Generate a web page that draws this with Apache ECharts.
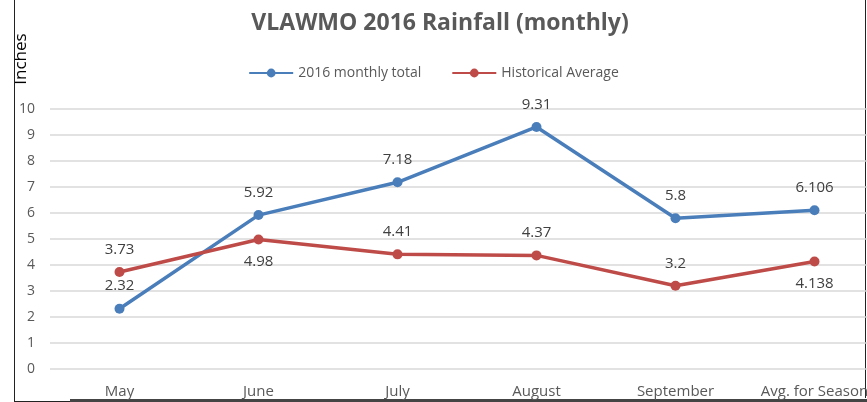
<!DOCTYPE html>
<html>
<head>
<meta charset="utf-8">
<script src="https://cdn.jsdelivr.net/npm/echarts@6/dist/echarts.min.js"></script>
<style>
  html, body { margin: 0; padding: 0; background: #fff; }
  #chart { width: 867px; height: 402px; }
</style>
</head>
<body>
<div id="chart"></div>
<script>
// data
const months = ['May', 'June', 'July', 'August', 'September', 'Avg. for Season']
const total2016 = [2.32, 5.92, 7.18, 9.31, 5.8, 6.106]
const historical = [3.73, 4.98, 4.41, 4.37, 3.2, 4.138]
// label side for each point (true = above)
const totalAbove = [true, true, true, true, true, true]
const histAbove = [true, false, true, true, true, false]

const blue = '#4a7ebb'
const red = '#be4b48'
const font = '"Open Sans", Lato, sans-serif'

function withLabels(values, above) {
  return values.map((v, i) => ({
    value: v,
    label: { position: above[i] ? 'top' : 'bottom' }
  }))
}

const chart = echarts.init(document.getElementById('chart'))

chart.setOption({
  animation: false,
  textStyle: { fontFamily: font },
  title: {
    text: 'VLAWMO 2016 Rainfall (monthly)',
    left: 435,
    top: 7,
    textAlign: 'center',
    textStyle: { fontSize: 23, fontWeight: 'bold', color: '#595959', fontFamily: font }
  },
  legend: {
    top: 61,
    left: 'center',
    itemWidth: 44,
    itemHeight: 11,
    itemGap: 30,
    textStyle: { fontSize: 14, color: '#595959', fontFamily: font },
    data: ['2016 monthly total', 'Historical Average']
  },
  // the plot runs past the right edge of the picture, as in the original
  grid: { left: 50, width: 834, top: 109, bottom: 33, outerBoundsMode: 'none', containLabel: false },
  xAxis: {
    type: 'category',
    data: months,
    boundaryGap: true,
    axisLine: { show: false },
    axisTick: { show: false },
    axisLabel: { interval: 0, hideOverlap: false, margin: 15, fontSize: 15, color: '#595959', fontFamily: font }
  },
  yAxis: {
    type: 'value',
    min: 0,
    max: 10,
    interval: 1,
    axisLine: { show: false },
    axisTick: { show: false },
    axisLabel: { margin: 15, fontSize: 14, color: '#595959', fontFamily: font },
    splitLine: { lineStyle: { color: '#d9d9d9', width: 1.5 } }
  },
  series: [
    {
      name: '2016 monthly total',
      type: 'line',
      data: withLabels(total2016, totalAbove),
      symbol: 'circle',
      symbolSize: 10,
      color: blue,
      lineStyle: { width: 3.5, color: blue },
      itemStyle: { color: blue },
      label: { show: true, distance: 10, fontSize: 15, color: '#404040', fontFamily: font }
    },
    {
      name: 'Historical Average',
      type: 'line',
      data: withLabels(historical, histAbove),
      symbol: 'circle',
      symbolSize: 10,
      color: red,
      lineStyle: { width: 3.5, color: red },
      itemStyle: { color: red },
      label: { show: true, distance: 10, fontSize: 15, color: '#404040', fontFamily: font }
    }
  ],
  graphic: [
    {
      type: 'text',
      x: 21,
      y: 59,
      rotation: Math.PI / 2,
      style: {
        text: 'Inches',
        fontSize: 17,
        fill: '#000',
        fontFamily: font,
        align: 'center',
        verticalAlign: 'middle'
      }
    },
    // frame of the original picture
    { type: 'rect', shape: { x: 866, y: 0, width: 1, height: 402 }, style: { fill: '#fff' } },
    { type: 'line', shape: { x1: 14.5, y1: 0, x2: 14.5, y2: 401 }, style: { stroke: '#222', lineWidth: 1 } },
    { type: 'line', shape: { x1: 865.5, y1: 0, x2: 865.5, y2: 398 }, style: { stroke: '#222', lineWidth: 1 } },
    { type: 'line', shape: { x1: 14, y1: 401.5, x2: 70, y2: 401.5 }, style: { stroke: '#222', lineWidth: 1 } },
    { type: 'line', shape: { x1: 70, y1: 400.5, x2: 867, y2: 400.5 }, style: { stroke: '#444', lineWidth: 3 } }
  ]
})
</script>
</body>
</html>
